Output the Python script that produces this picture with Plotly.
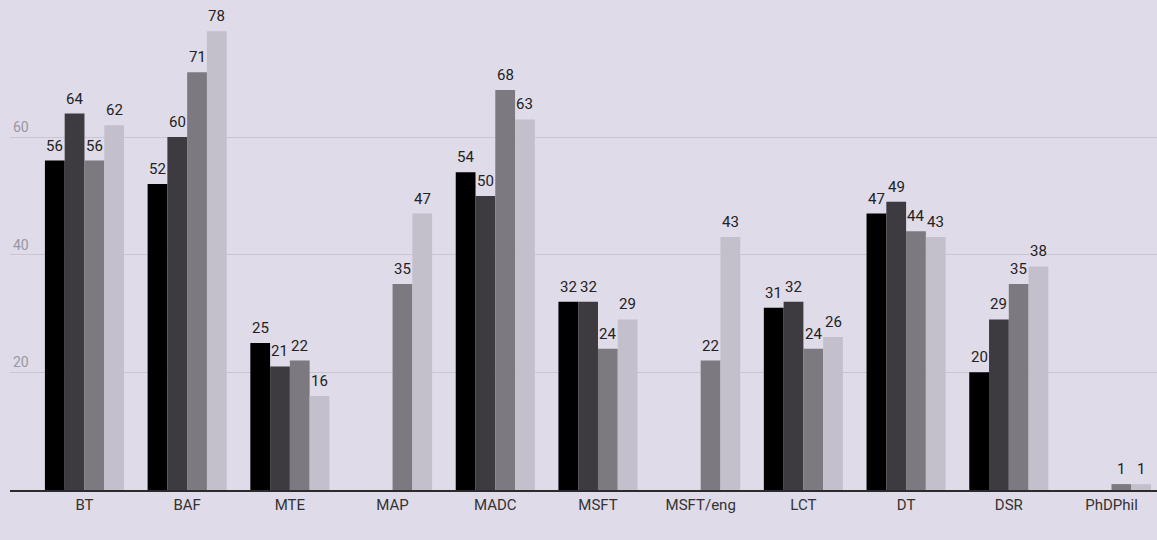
import plotly.graph_objects as go

categories = ["BT", "BAF", "MTE", "MAP", "MADC", "MSFT", "MSFT/eng", "LCT", "DT", "DSR", "PhDPhil"]

series_1 = [56, 52, 25, None, 54, 32, None, 31, 47, 20, None]
series_2 = [64, 60, 21, None, 50, 32, None, 32, 49, 29, None]
series_3 = [56, 71, 22, 35, 68, 24, 22, 24, 44, 35, 1]
series_4 = [62, 78, 16, 47, 63, 29, 43, 26, 43, 38, 1]

y_ticks = [20, 40, 60]

colors = ["#000000", "#3d3a40", "#7c7a80", "#c4c0cb"]
series = [series_1, series_2, series_3, series_4]

# geometry of the plot area
W, H = 1157, 540
M_L, M_R, M_T, M_B = 10, 0, 0, 50
X_RANGE = [-0.725, 10.443]
BARGAP = 0.23

fig = go.Figure()
for vals, col in zip(series, colors):
    fig.add_trace(go.Bar(
        x=categories,
        y=vals,
        marker=dict(color=col, line=dict(width=0)),
        showlegend=False,
        hoverinfo="x+y",
    ))

# value labels above each bar, offset to the bar's slot within its group
px_per_cat = (W - M_L - M_R) / (X_RANGE[1] - X_RANGE[0])
bar_px = (1 - BARGAP) / len(series) * px_per_cat
annotations = []
for si, vals in enumerate(series):
    shift = (si - (len(series) - 1) / 2) * bar_px
    for cat, v in zip(categories, vals):
        if v is None:
            continue
        annotations.append(dict(
            x=cat, y=v, xref="x", yref="y",
            text=str(v), showarrow=False,
            xanchor="center", yanchor="bottom",
            xshift=shift, yshift=4,
            font=dict(family="Roboto", size=15, color="#222222"),
        ))

fig.update_layout(
    width=W,
    height=H,
    margin=dict(l=M_L, r=M_R, t=M_T, b=M_B),
    paper_bgcolor="#dfdbe8",
    plot_bgcolor="#dfdbe8",
    barmode="group",
    bargap=BARGAP,
    bargroupgap=0,
    font=dict(family="Roboto", size=15, color="#333333"),
    annotations=annotations,
)

fig.update_xaxes(
    range=X_RANGE,
    showgrid=False,
    showline=True,
    linecolor="#2b2b2b",
    linewidth=1.5,
    ticks="",
    tickfont=dict(family="Roboto", size=15, color="#333333"),
    fixedrange=True,
)

fig.update_yaxes(
    range=[0, 83.3],
    tickvals=y_ticks,
    ticktext=[str(t) for t in y_ticks],
    ticklabelposition="inside top",
    tickfont=dict(family="Roboto", size=14, color="#9a97a0"),
    showgrid=True,
    gridcolor="#c9c5d2",
    gridwidth=1,
    zeroline=False,
    showline=False,
    fixedrange=True,
)

fig.write_html("out.html")
